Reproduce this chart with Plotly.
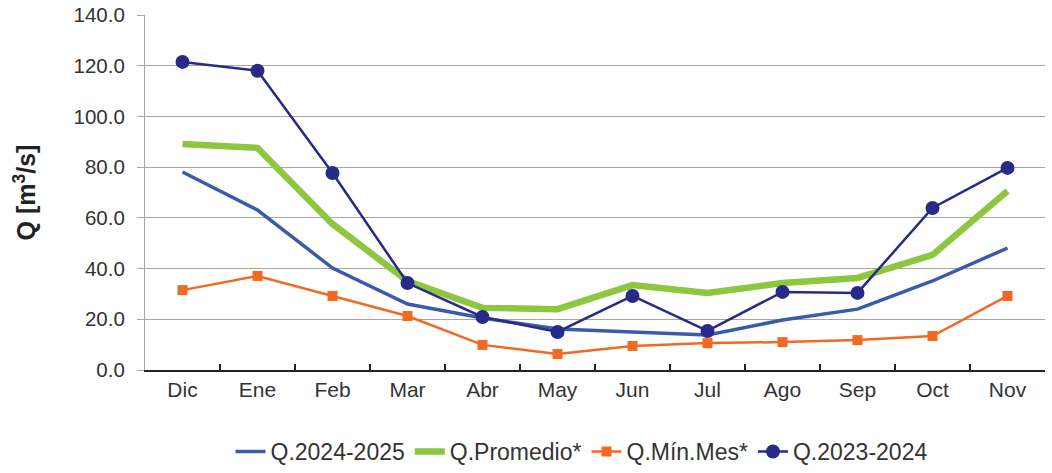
import plotly.graph_objects as go

months = ["Dic", "Ene", "Feb", "Mar", "Abr", "May", "Jun", "Jul", "Ago", "Sep", "Oct", "Nov"]
q_2024_2025 = [78.1, 63.1, 40.2, 26.0, 20.5, 16.2, 15.0, 13.8, 19.7, 24.0, 35.1, 48.1]
q_promedio = [89.1, 87.6, 57.6, 35.1, 24.5, 24.0, 33.5, 30.4, 34.3, 36.3, 45.4, 70.6]
q_min_mes = [31.5, 37.1, 29.2, 21.3, 9.9, 6.3, 9.5, 10.6, 11.0, 11.8, 13.4, 29.2]
q_2023_2024 = [121.5, 118.0, 77.7, 34.3, 20.9, 15.0, 29.2, 15.4, 30.8, 30.4, 63.9, 79.7]

fig = go.Figure()
fig.add_trace(go.Scatter(x=months, y=q_2024_2025, name="Q.2024-2025", mode="lines",
                         line=dict(color="#3a5bab", width=3.5)))
fig.add_trace(go.Scatter(x=months, y=q_promedio, name="Q.Promedio*", mode="lines",
                         line=dict(color="#8dc63f", width=6.5)))
fig.add_trace(go.Scatter(x=months, y=q_min_mes, name="Q.Mín.Mes*", mode="lines+markers",
                         line=dict(color="#f26a22", width=2.5),
                         marker=dict(symbol="square", size=10, color="#f26a22")))
fig.add_trace(go.Scatter(x=months, y=q_2023_2024, name="Q.2023-2024", mode="lines+markers",
                         line=dict(color="#272a86", width=2.5),
                         marker=dict(symbol="circle", size=14, color="#272a86")))

fig.update_layout(
    width=1052, height=473,
    margin=dict(l=145, r=7, t=15, b=103),
    paper_bgcolor="white", plot_bgcolor="white",
    font=dict(family="Liberation Sans, Arial, sans-serif", color="#333333", size=20),
    showlegend=True,
    legend=dict(orientation="h", x=0.485, xanchor="center", y=0.0, yanchor="bottom",
                yref="container",
                font=dict(size=23, color="#333333"), traceorder="normal",
                itemwidth=30, tracegroupgap=0),
)
fig.update_xaxes(
    type="category", range=[-0.5, 11.5], automargin=False,
    showgrid=False, showline=True, linecolor="#222222", linewidth=2,
    ticks="inside", tickson="boundaries", ticklen=6, tickcolor="#222222", tickwidth=1.5,
    tickfont=dict(size=21, color="#333333"),
)
fig.update_yaxes(
    range=[0, 140], dtick=20, tickformat=".1f", automargin=False,
    showgrid=True, gridcolor="#a6a6a6", gridwidth=1.2,
    showline=True, linecolor="#a6a6a6", linewidth=1.2,
    ticks="outside", ticklen=7, tickcolor="#a6a6a6", ticklabelstandoff=8,
    tickfont=dict(size=20.5, color="#333333"),
    zeroline=False,
    title=dict(text="<b>Q [m<sup>3</sup>/s]</b>", font=dict(size=25, color="#222222"), standoff=30),
)

fig.write_html("out.html", config={"displayModeBar": False},
               post_script="document.body.style.margin='0';document.body.style.overflow='hidden';")
